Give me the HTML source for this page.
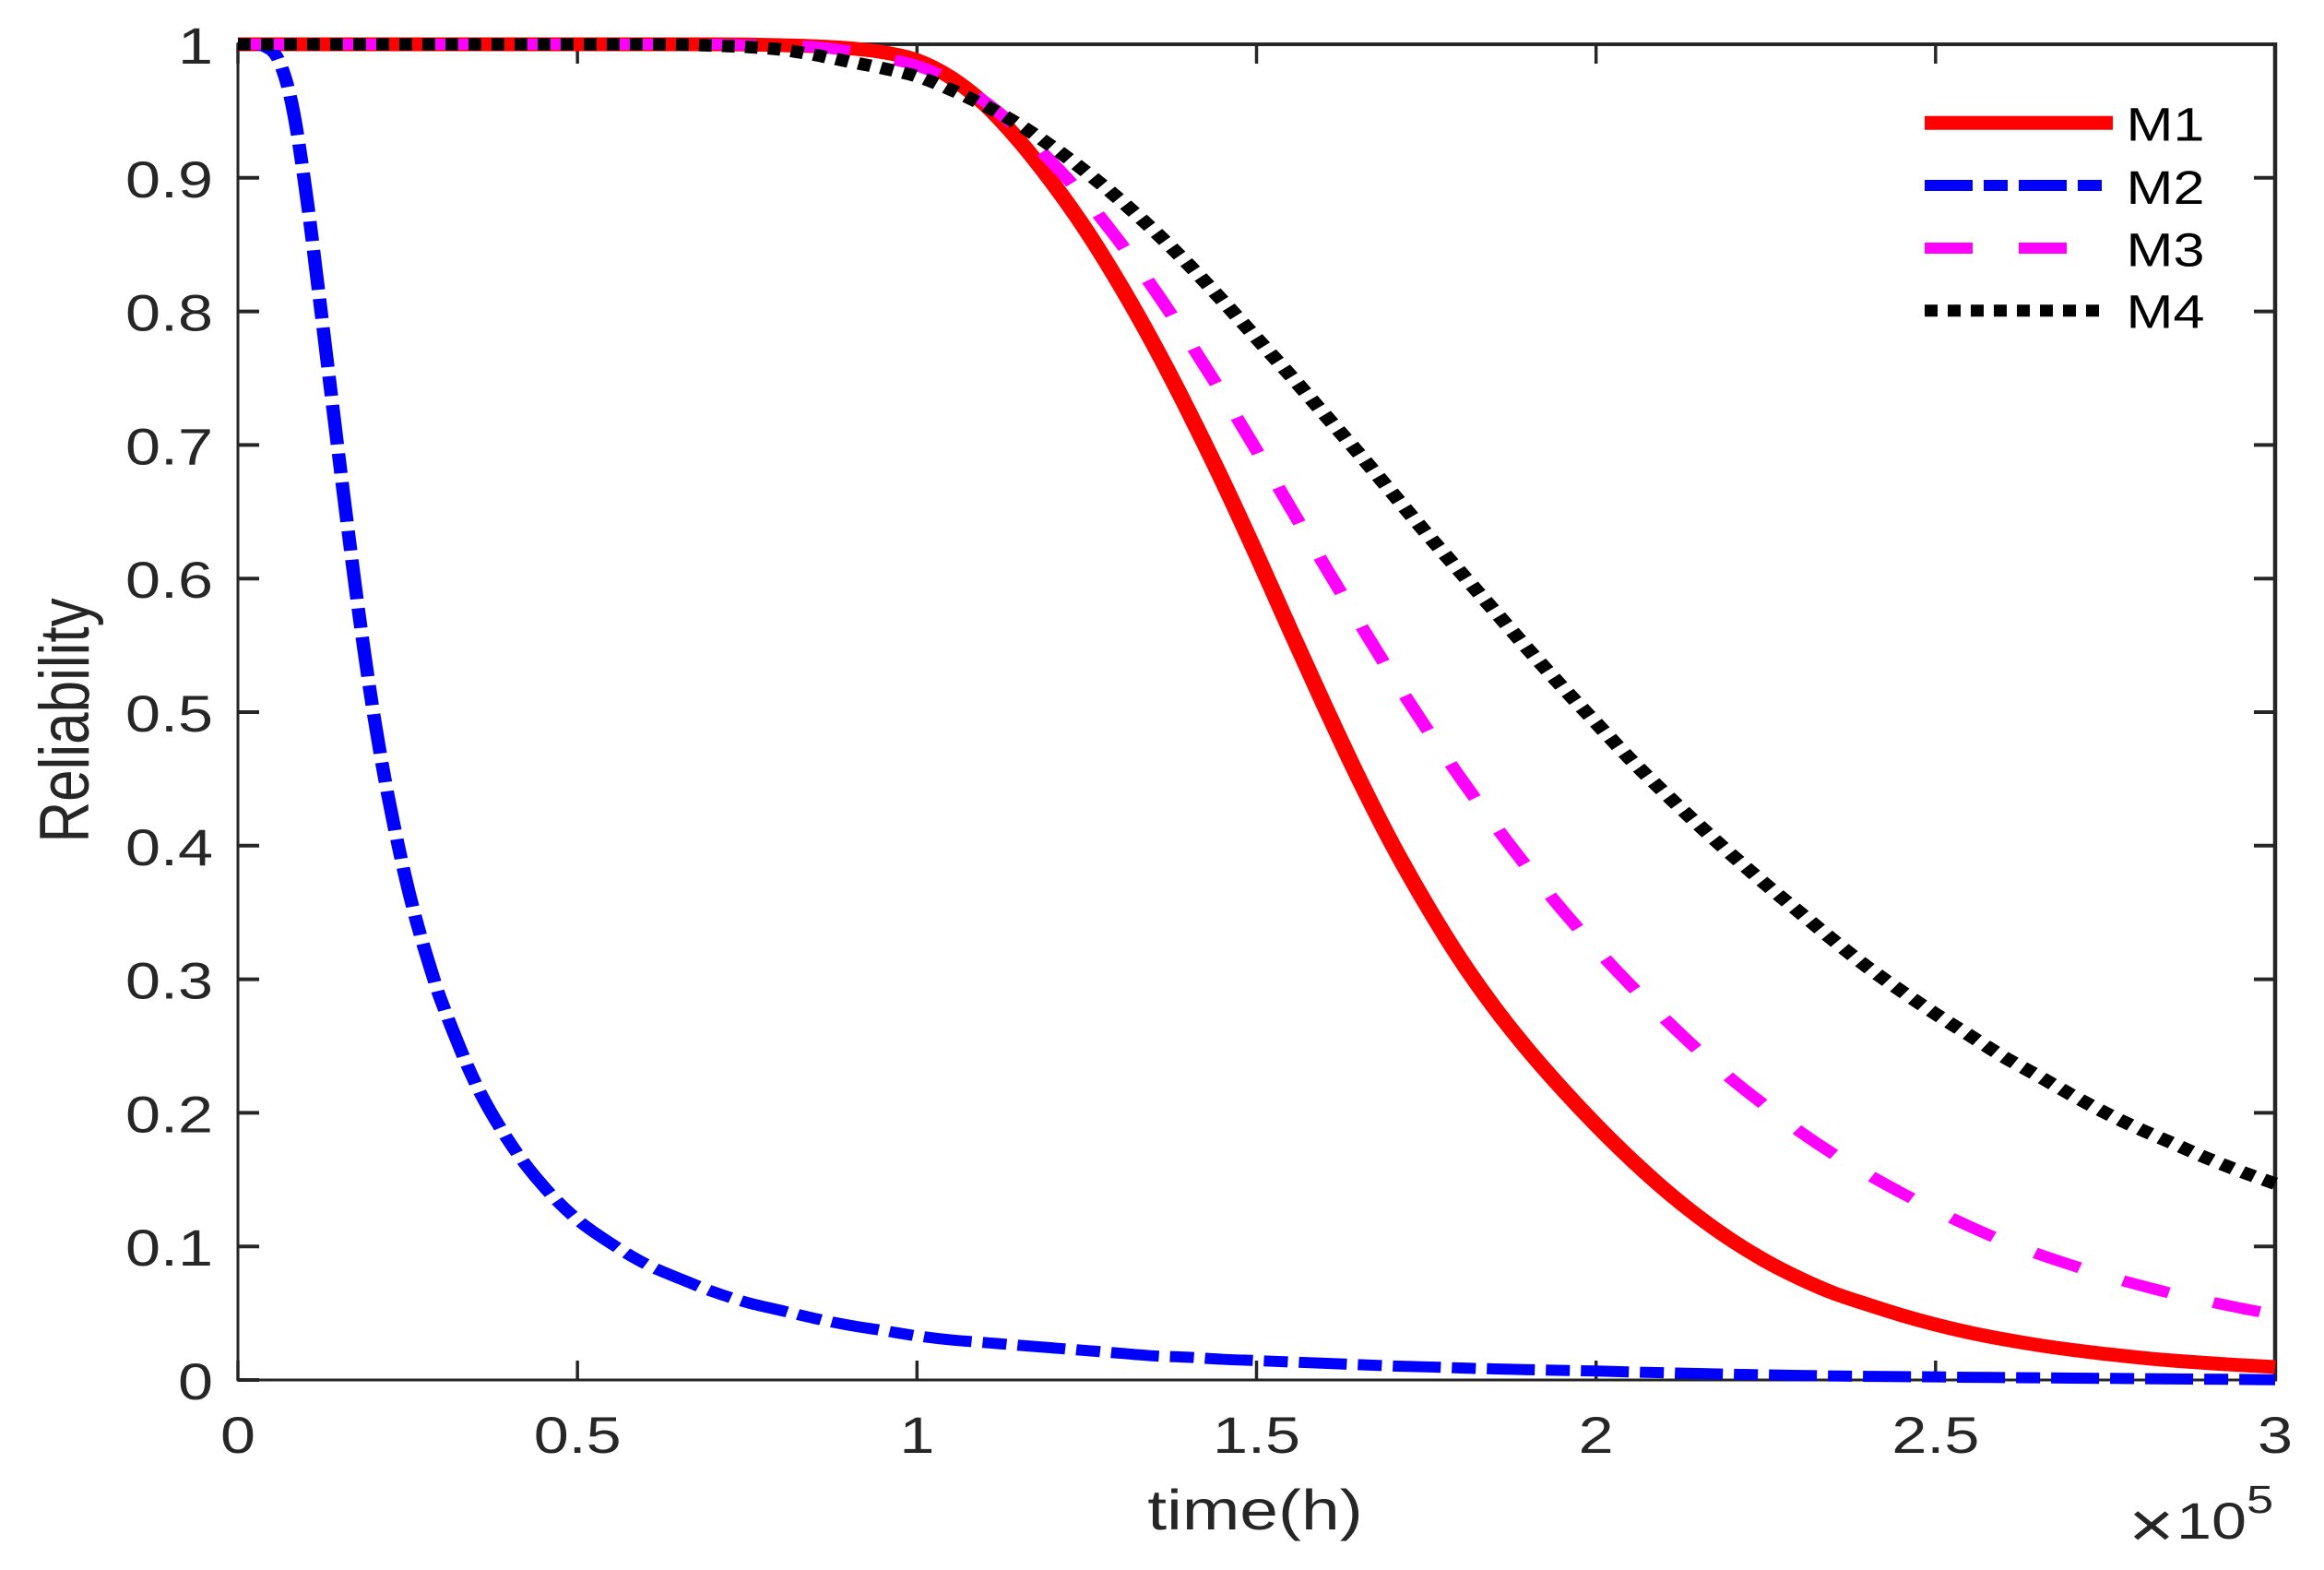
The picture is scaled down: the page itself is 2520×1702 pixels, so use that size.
<!DOCTYPE html>
<html lang="en">
<head>
<meta charset="utf-8">
<title>Reliability over time</title>
<style>
html,body{margin:0;padding:0;background:#fff;}
svg{display:block;}
text{font-family:"Liberation Sans",Arial,sans-serif;fill:#262626;}
</style>
</head>
<body>
<svg id="chart" xmlns="http://www.w3.org/2000/svg" width="2520" height="1702" viewBox="0 0 2520 1702">
  <rect x="0" y="0" width="2520" height="1702" fill="#ffffff"/>
  <g id="axes"></g>
  <g id="series" transform="scale(1.21,1)"></g>
  <text transform="translate(96,781) rotate(-90) scale(1,1.23)" text-anchor="middle" font-size="62">Reliability</text>
  <text transform="translate(1361,1658) scale(1.23,1)" text-anchor="middle" font-size="61">time(h)</text>
  <g>
    <text transform="translate(2308,1677) scale(1.22,1)" font-size="70">×</text>
    <text transform="translate(2360,1668) scale(1.22,1)" font-size="56">10</text>
    <text transform="translate(2436,1640) scale(1.22,1)" font-size="43">5</text>
  </g>
  <g>
    <line x1="2087" y1="133.3" x2="2291" y2="133.3" stroke="#ff0000" stroke-width="15"/>
    <line x1="2087" y1="201" x2="2279" y2="201" stroke="#0000ff" stroke-width="12" stroke-dasharray="52 12 26 12"/>
    <line x1="2087" y1="269" x2="2241" y2="269" stroke="#ff00ff" stroke-width="12" stroke-dasharray="52 50"/>
    <line x1="2087" y1="336.7" x2="2279" y2="336.7" stroke="#000000" stroke-width="13" stroke-dasharray="14 11"/>
    <text style="fill:#000" transform="translate(2305.5,152.7) scale(1.2,1)" font-size="51">M1</text>
    <text style="fill:#000" transform="translate(2305.5,221) scale(1.2,1)" font-size="51">M2</text>
    <text style="fill:#000" transform="translate(2305.5,288.5) scale(1.2,1)" font-size="51">M3</text>
    <text style="fill:#000" transform="translate(2305.5,355.7) scale(1.2,1)" font-size="51">M4</text>
  </g>
</svg>
<script>
// time in units of 1e5 h
const times = [0,0.02,0.04,0.06,0.08,0.1,0.12,0.14,0.16,0.18,0.2,0.22,0.24,0.26,0.28,0.3,
  0.35,0.4,0.45,0.5,0.55,0.6,0.65,0.7,0.75,0.8,0.85,0.9,0.95,1,
  1.05,1.1,1.15,1.2,1.25,1.3,1.35,1.4,1.45,1.5,1.55,1.6,1.65,1.7,1.75,1.8,1.85,1.9,1.95,2,
  2.05,2.1,2.15,2.2,2.25,2.3,2.35,2.4,2.45,2.5,2.55,2.6,2.65,2.7,2.75,2.8,2.85,2.9,2.95,3];
const m1Values = [1,1,1,1,1,1,1,1,1,1,1,1,1,1,1,1,
  1,1,1,1,1,1,1,1,0.9998,0.9993,0.9985,0.997,0.994,0.988,
  0.975,0.955,0.928,0.896,0.86,0.819,0.774,0.725,0.673,0.618,0.561,0.505,0.451,0.401,0.356,0.315,0.279,0.247,0.218,0.191,
  0.166,0.143,0.1225,0.1045,0.089,0.076,0.065,0.0565,0.0485,0.0415,0.0355,0.0305,0.0262,0.0226,0.0195,0.0168,0.0145,0.0127,0.0111,0.0097];
const m2Values = [1,1,0.998,0.988,0.954,0.89,0.81,0.727,0.645,0.567,0.498,0.44,0.391,0.349,0.314,0.283,
  0.222,0.178,0.145,0.12,0.102,0.087,0.076,0.066,0.058,0.052,0.046,0.041,0.037,0.033,
  0.03,0.028,0.026,0.024,0.022,0.02,0.018,0.017,0.0155,0.0145,0.0135,0.0125,0.0115,0.0105,0.0098,0.009,0.0083,0.0077,0.0072,0.0067,
  0.006,0.0054,0.0048,0.0043,0.0038,0.0034,0.003,0.0027,0.0025,0.0023,0.002,0.0018,0.0016,0.0014,0.0012,0.001,0.0008,0.0006,0.0004,0.0002];
const m3Values = [1,1,1,1,1,1,1,1,1,1,1,1,1,1,1,1,
  1,1,1,1,1,1,1,1,0.9995,0.999,0.998,0.995,0.99,0.984,
  0.973,0.957,0.936,0.911,0.883,0.851,0.816,0.778,0.738,0.696,0.653,0.61,0.568,0.527,0.488,0.451,0.416,0.383,0.352,0.323,
  0.296,0.271,0.247,0.225,0.205,0.186,0.169,0.154,0.14,0.127,0.115,0.104,0.0945,0.086,0.078,0.071,0.0645,0.059,0.0537,0.049];
const m4Values = [1,1,1,1,1,1,1,1,1,1,1,1,1,1,1,1,
  1,1,1,1,1,1,0.9998,0.999,0.998,0.996,0.992,0.987,0.982,0.976,
  0.966,0.954,0.94,0.923,0.904,0.883,0.86,0.835,0.808,0.78,0.752,0.723,0.694,0.664,0.634,0.605,0.576,0.547,0.519,0.492,
  0.465,0.44,0.416,0.393,0.371,0.35,0.329,0.309,0.291,0.274,0.258,0.242,0.228,0.2135,0.2,0.188,0.177,0.166,0.156,0.147];
const xTickValues = [0,0.5,1,1.5,2,2.5,3];
const xTickLabels = ['0','0.5','1','1.5','2','2.5','3'];
const yTickValues = [0,0.1,0.2,0.3,0.4,0.5,0.6,0.7,0.8,0.9,1];
const yTickLabels = ['0','0.1','0.2','0.3','0.4','0.5','0.6','0.7','0.8','0.9','1'];

const NS = 'http://www.w3.org/2000/svg';
const plotLeft = 258, plotRight = 2467, plotTop = 48, plotBottom = 1496;
const xMax = 3;
const seriesStretch = 1.21;
function xScale(t){ return plotLeft + (t / xMax) * (plotRight - plotLeft); }
function yScale(r){ return plotBottom - r * (plotBottom - plotTop); }

function makeLine(parent, x1, y1, x2, y2, w){
  const l = document.createElementNS(NS, 'line');
  l.setAttribute('x1', x1);
  l.setAttribute('y1', y1);
  l.setAttribute('x2', x2);
  l.setAttribute('y2', y2);
  l.setAttribute('stroke', '#262626');
  l.setAttribute('stroke-width', w);
  parent.appendChild(l);
  return l;
}
function makeLabel(parent, tx, ty, anchor, str){
  const t = document.createElementNS(NS, 'text');
  t.setAttribute('transform', 'translate(' + tx + ',' + ty + ') scale(1.22,1)');
  t.setAttribute('text-anchor', anchor);
  t.setAttribute('font-size', '56');
  t.textContent = str;
  parent.appendChild(t);
  return t;
}

const axes = document.getElementById('axes');

const leftAxis = makeLine(axes, plotLeft, plotTop - 2, plotLeft, plotBottom + 1.5, 3);


const bottomAxis = makeLine(axes, plotLeft - 1.5, plotBottom, plotRight + 2, plotBottom, 3);


const topAxis = makeLine(axes, plotLeft - 1.5, plotTop, plotRight + 2, plotTop, 4);


const rightAxis = makeLine(axes, plotRight, plotTop - 2, plotRight, plotBottom + 1.5, 4.5);



xTickValues.forEach(function(v, i){
  const x = xScale(v);
  const b = makeLine(axes, x, plotBottom, x, plotBottom - 21, 3.5);
  
  
  const t = makeLine(axes, x, plotTop, x, plotTop + 21, 3.5);
  
  
  const lab = makeLabel(axes, x, 1575, 'middle', xTickLabels[i]);
  
  
});

yTickValues.forEach(function(v, i){
  const y = yScale(v);
  const l = makeLine(axes, plotLeft, y, plotLeft + 23, y, 4);
  
  
  const r = makeLine(axes, plotRight, y, plotRight - 23, y, 4);
  
  
  const lab = makeLabel(axes, 231, y + 21, 'end', yTickLabels[i]);
  
  
});

// Curves are drawn in a horizontally compressed space; the group's scale restores
// pixel positions while stretching stroke widths and dashes like the reference.
function curvePath(values){
  function slope(i){
    const a = Math.max(0, i - 1), b = Math.min(times.length - 1, i + 1);
    return (yScale(values[b]) - yScale(values[a])) / (xScale(times[b]) - xScale(times[a]));
  }
  function sx(x){ return (x / seriesStretch).toFixed(2); }
  let d = 'M' + sx(xScale(times[0])) + ' ' + yScale(values[0]).toFixed(2);
  for (let i = 0; i < times.length - 1; i++){
    const x0 = xScale(times[i]), x1 = xScale(times[i + 1]);
    const y0 = yScale(values[i]), y1 = yScale(values[i + 1]);
    const dx = (x1 - x0) / 3;
    d += 'C' + sx(x0 + dx) + ' ' + (y0 + slope(i) * dx).toFixed(2) + ' ' +
         sx(x1 - dx) + ' ' + (y1 - slope(i + 1) * dx).toFixed(2) + ' ' +
         sx(x1) + ' ' + y1.toFixed(2);
  }
  return d;
}

const seriesGroup = document.getElementById('series');
function makeCurve(values, color, width, dash){
  const p = document.createElementNS(NS, 'path');
  p.setAttribute('d', curvePath(values));
  p.setAttribute('fill', 'none');
  p.setAttribute('stroke', color);
  p.setAttribute('stroke-width', width);
  p.setAttribute('stroke-linejoin', 'round');
  if (dash) p.setAttribute('stroke-dasharray', dash);
  seriesGroup.appendChild(p);
  return p;
}

const curveM1 = makeCurve(m1Values, '#ff0000', 15, null);


const curveM2 = makeCurve(m2Values, '#0000ff', 12, '43 9.9 21.5 9.9');


const curveM3 = makeCurve(m3Values, '#ff00ff', 12, '43 41.3');


const curveM4 = makeCurve(m4Values, '#000000', 13.5, '11.4 9.26');


</script>
</body>
</html>
